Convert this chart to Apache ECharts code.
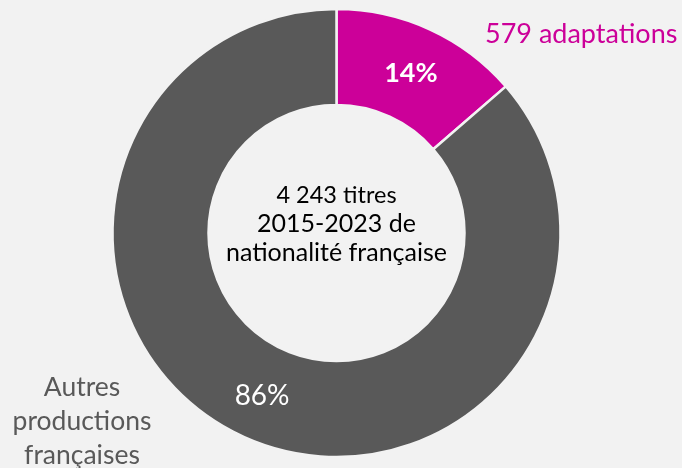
<!DOCTYPE html>
<html>
<head>
<meta charset="utf-8">
<script src="https://cdn.jsdelivr.net/npm/echarts@6/dist/echarts.min.js"></script>
<style>
  html, body { margin: 0; padding: 0; background: #f2f2f2; }
  #chart { width: 682px; height: 468px; }
</style>
</head>
<body>
<div id="chart"></div>
<script>
var chartDom = document.getElementById('chart');
var myChart = echarts.init(chartDom);

// données
var categories = ['579 adaptations', 'Autres\nproductions\nfrançaises'];
var values = [579, 3664];
var colors = ['#cc0099', '#595959'];
var centerLines = ['4 243 titres', '2015-2023 de', 'nationalité française'];

var font = 'Lato';
var center = [336.5, 233];
var radius = [128, 224];

var pieData = categories.map(function (name, i) {
  return { name: name, value: values[i], itemStyle: { color: colors[i] } };
});

var option = {
  backgroundColor: '#f2f2f2',
  animation: false,
  graphic: [
    {
      type: 'text',
      x: center[0],
      y: 224,
      style: {
        text: '{a|' + centerLines[0] + '}\n{b|' + centerLines[1] + '}\n{b|' + centerLines[2] + '}',
        align: 'center',
        verticalAlign: 'middle',
        rich: {
          a: { fontFamily: font, fontSize: 23.5, color: '#000', lineHeight: 28.5 },
          b: { fontFamily: font, fontSize: 25, color: '#262626', lineHeight: 28.5 }
        }
      }
    }
  ],
  series: [
    {
      type: 'pie',
      center: center,
      radius: radius,
      startAngle: 90,
      clockwise: true,
      silent: true,
      itemStyle: { borderColor: '#f2f2f2', borderWidth: 2.5 },
      label: {
        position: 'inside',
        fontFamily: font,
        color: '#fff',
        formatter: function (p) {
          return Math.round(p.percent) + '%';
        }
      },
      labelLine: { show: false },
      labelLayout: function (p) {
        return p.dataIndex === 0 ? { dy: 3 } : {};
      },
      data: pieData.map(function (d, i) {
        return {
          name: d.name,
          value: d.value,
          itemStyle: d.itemStyle,
          label: i === 0
            ? { fontWeight: 'bold', fontSize: 27 }
            : { fontWeight: 'normal', fontSize: 28 }
        };
      })
    },
    {
      type: 'pie',
      center: center,
      radius: radius,
      startAngle: 90,
      clockwise: true,
      silent: true,
      itemStyle: { color: 'transparent' },
      label: {
        position: 'outside',
        fontFamily: font,
        formatter: '{b}'
      },
      labelLine: { show: false },
      labelLayout: function (p) {
        if (p.dataIndex === 0) {
          return { x: 485, y: 34, align: 'left', verticalAlign: 'middle' };
        }
        return { x: 82, y: 421, align: 'center', verticalAlign: 'middle' };
      },
      data: pieData.map(function (d, i) {
        return {
          name: d.name,
          value: d.value,
          label: i === 0
            ? { color: colors[i], fontSize: 27 }
            : { color: colors[i], fontSize: 26.5, lineHeight: 34 }
        };
      })
    }
  ]
};

myChart.setOption(option);

window.onresize = () => {
  myChart.resize();
}
</script>
</body>
</html>
